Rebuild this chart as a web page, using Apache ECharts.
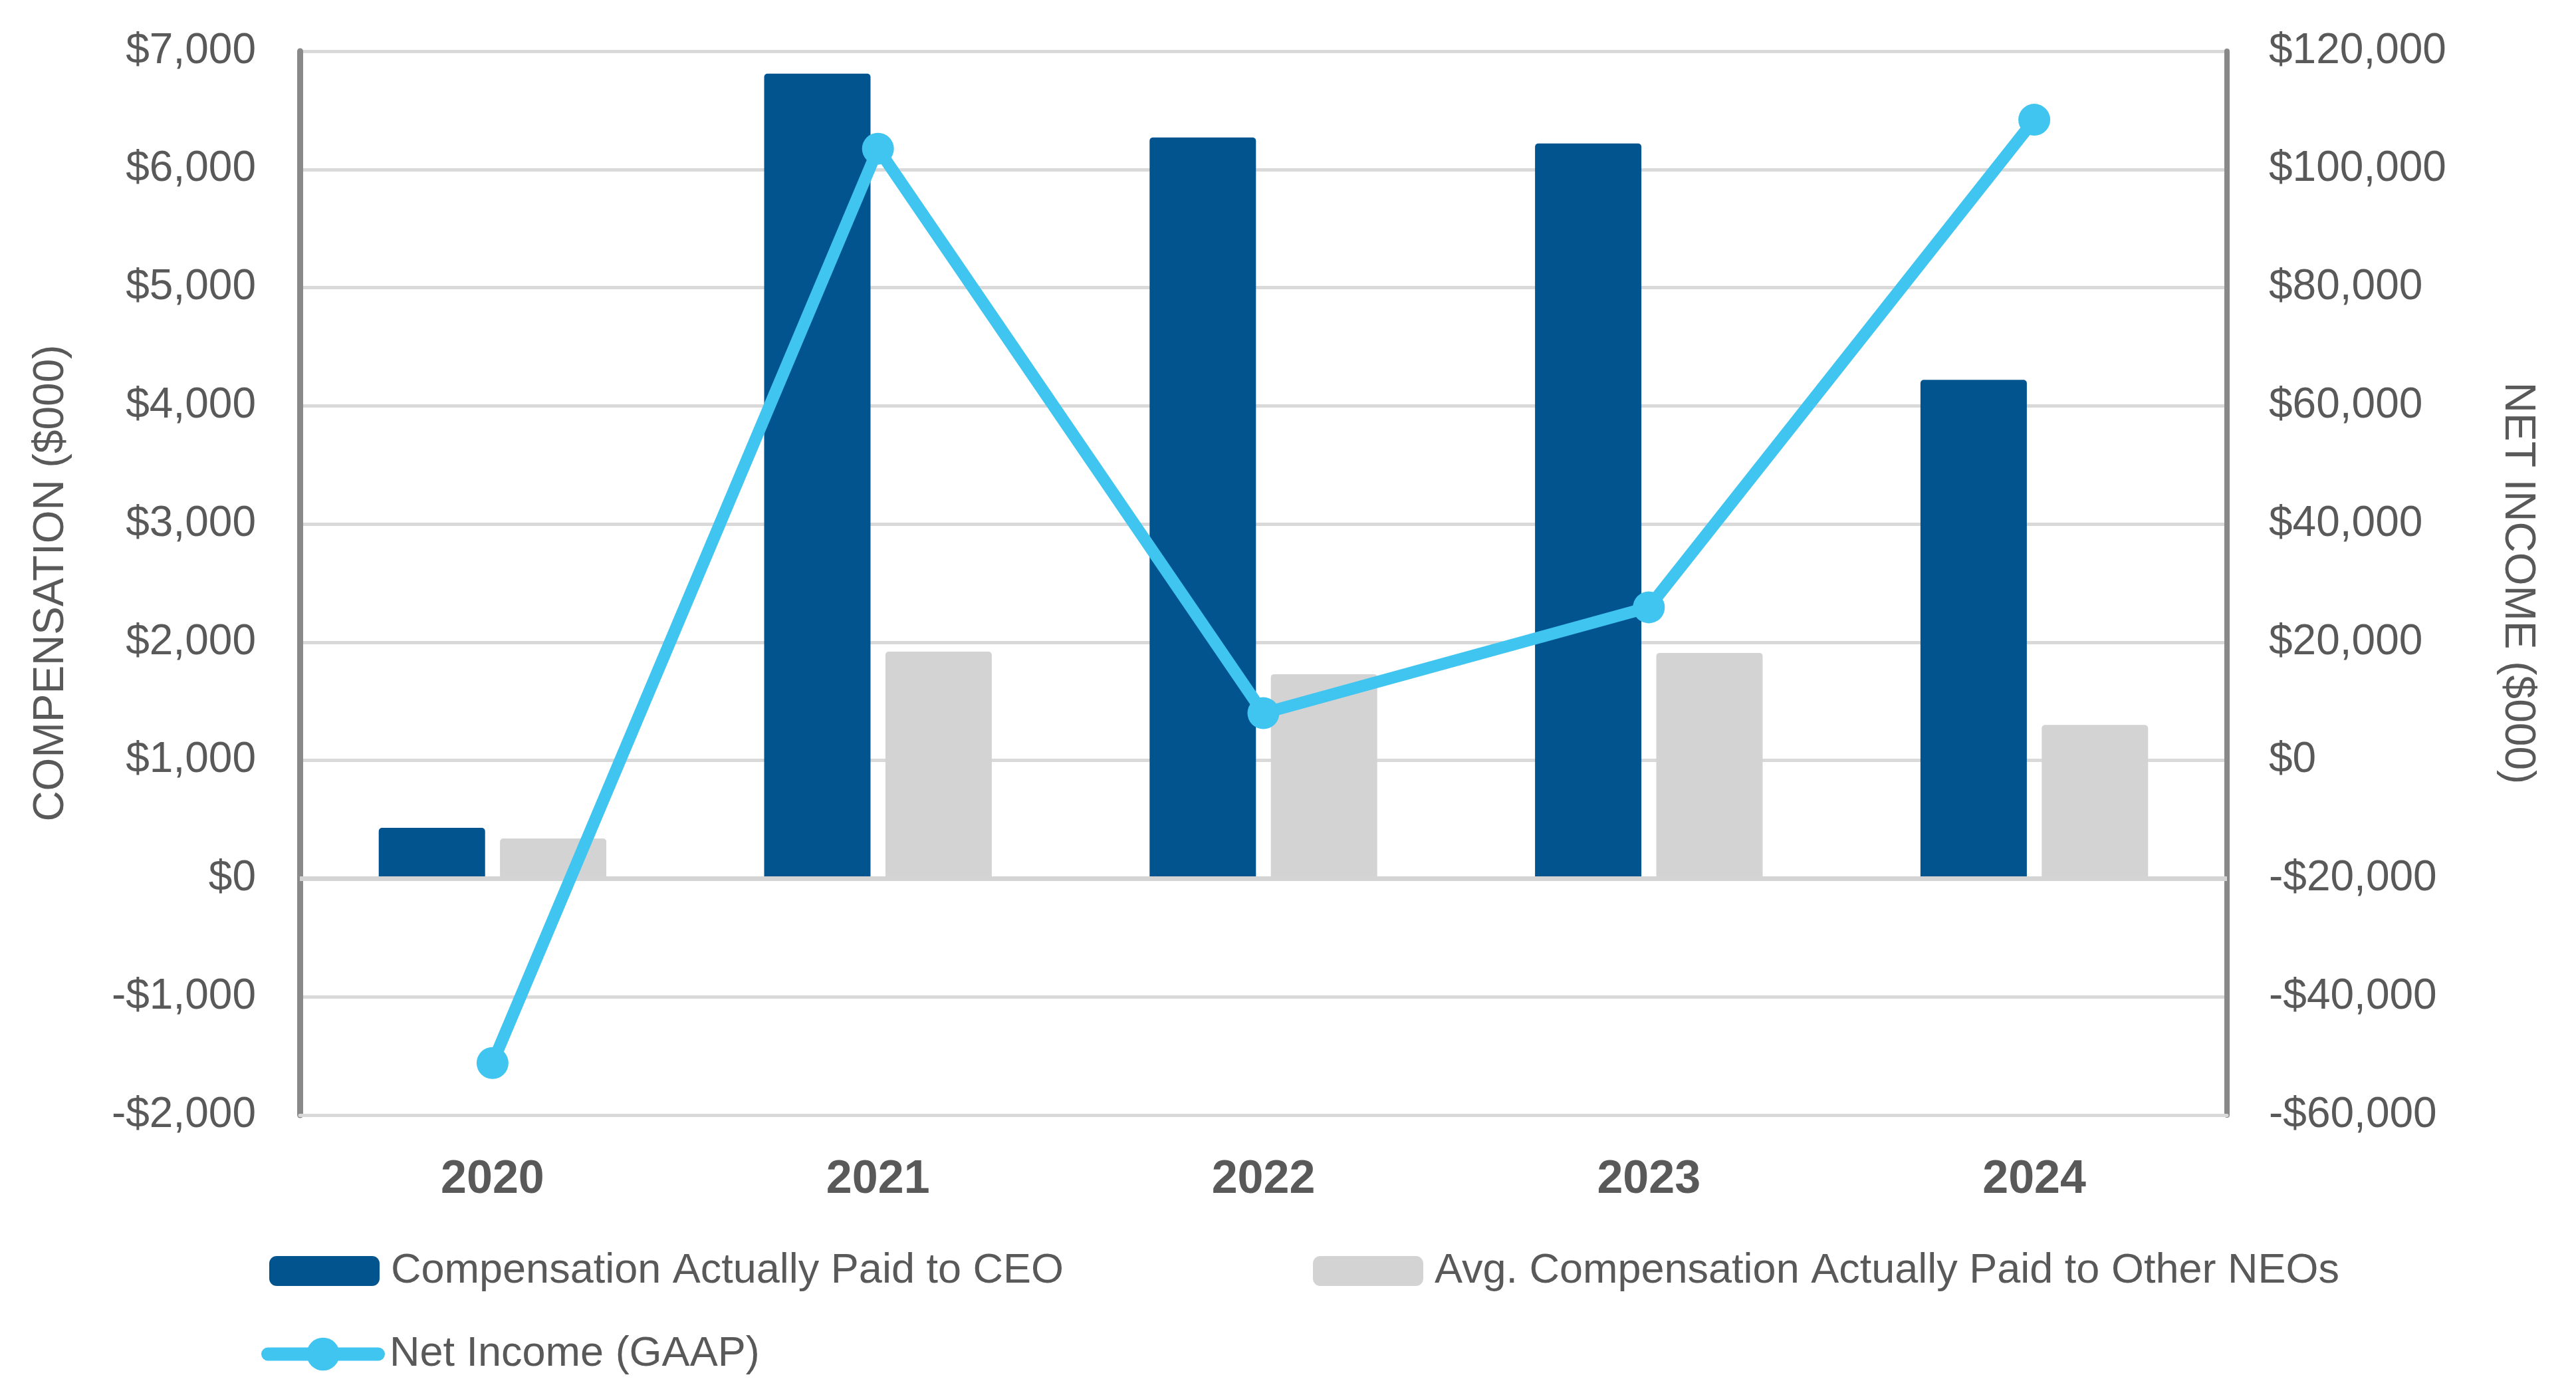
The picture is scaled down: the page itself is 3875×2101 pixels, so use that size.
<!DOCTYPE html>
<html>
<head>
<meta charset="utf-8">
<script src="https://cdn.jsdelivr.net/npm/echarts@6/dist/echarts.min.js"></script>
<style>
html,body{margin:0;padding:0;background:#fff;}
#chart{width:3875px;height:2101px;}
</style>
</head>
<body>
<div id="chart"></div>
<script>
const categories = ['2020', '2021', '2022', '2023', '2024'];
const ceoCap = [430, 6810, 6270, 6220, 4220];
const neoCap = [340, 1920, 1730, 1910, 1300];
const netIncome = [-51200, 103500, 8000, 25900, 108400];
const leftTicks = { min: -2000, max: 7000, interval: 1000 };
const rightTicks = { min: -60000, max: 120000, interval: 20000 };
const seriesNames = ['Compensation Actually Paid to CEO', 'Avg. Compensation Actually Paid to Other NEOs', 'Net Income (GAAP)'];

const FONT = '"Liberation Sans Narrow", "Arial Narrow", "Liberation Sans", Arial, sans-serif';
const TXT = '#595959';
const FS = 64;
function money(v) {
  const s = '$' + Math.abs(v).toLocaleString('en-US');
  return v < 0 ? '-' + s : s;
}
const legendText = { fontFamily: FONT, fontSize: 63, color: TXT, padding: [0, 0, 0, 12] };

const chart = echarts.init(document.getElementById('chart'));
chart.setOption({
  animation: false,
  backgroundColor: '#ffffff',
  grid: { left: 451, right: 525, top: 77, bottom: 424, containLabel: false },
  legend: [
    { data: [seriesNames[0]], left: 400, top: 1875, itemWidth: 166, itemHeight: 45, textStyle: legendText, selectedMode: false },
    { data: [seriesNames[1]], left: 1970, top: 1875, itemWidth: 166, itemHeight: 45, textStyle: legendText, selectedMode: false },
    { data: [seriesNames[2]], left: 388, top: 2000, itemWidth: 166, itemHeight: 62, textStyle: legendText, selectedMode: false,
      lineStyle: { width: 20, cap: 'round' } }
  ],
  xAxis: {
    type: 'category',
    data: categories,
    axisLine: { onZero: false, lineStyle: { color: '#d9d9d9', width: 5 } },
    axisTick: { show: false },
    axisLabel: { fontFamily: FONT, fontSize: 70, fontWeight: 'bold', color: TXT, margin: 63 }
  },
  yAxis: [
    {
      type: 'value', min: leftTicks.min, max: leftTicks.max, interval: leftTicks.interval,
      name: 'COMPENSATION ($000)', nameLocation: 'middle', nameGap: 342,
      nameTextStyle: { fontFamily: FONT, fontSize: FS, color: TXT },
      axisLine: { show: true, lineStyle: { color: '#898989', width: 9 } },
      axisTick: { show: false },
      axisLabel: { fontFamily: FONT, fontSize: FS, color: TXT, margin: 66, formatter: money },
      splitLine: { lineStyle: { color: '#d9d9d9', width: 5 } }
    },
    {
      type: 'value', min: rightTicks.min, max: rightTicks.max, interval: rightTicks.interval,
      position: 'right',
      name: 'NET INCOME ($000)', nameLocation: 'middle', nameGap: 405, nameRotate: -90,
      nameTextStyle: { fontFamily: FONT, fontSize: FS, color: TXT },
      axisLine: { show: true, lineStyle: { color: '#898989', width: 8 } },
      axisTick: { show: false },
      axisLabel: { fontFamily: FONT, fontSize: FS, color: TXT, margin: 63, formatter: money },
      splitLine: { show: false }
    }
  ],
  series: [
    {
      name: seriesNames[0], type: 'bar', data: ceoCap, yAxisIndex: 0,
      barWidth: 160, barGap: '14%',
      itemStyle: { color: '#02548F', borderRadius: [5, 5, 0, 0] },
      markLine: {
        silent: true, symbol: 'none', label: { show: false },
        lineStyle: { color: '#d4d4d4', width: 7, type: 'solid' },
        data: [{ yAxis: 0 }]
      }
    },
    {
      name: seriesNames[1], type: 'bar', data: neoCap, yAxisIndex: 0,
      barWidth: 160,
      itemStyle: { color: '#D3D3D3', borderRadius: [5, 5, 0, 0] }
    },
    {
      name: seriesNames[2], type: 'line', data: netIncome, yAxisIndex: 1,
      symbol: 'circle', symbolSize: 48,
      lineStyle: { color: '#3FC5F0', width: 18 },
      itemStyle: { color: '#3FC5F0' },
      z: 5
    }
  ]
});
</script>
</body>
</html>
